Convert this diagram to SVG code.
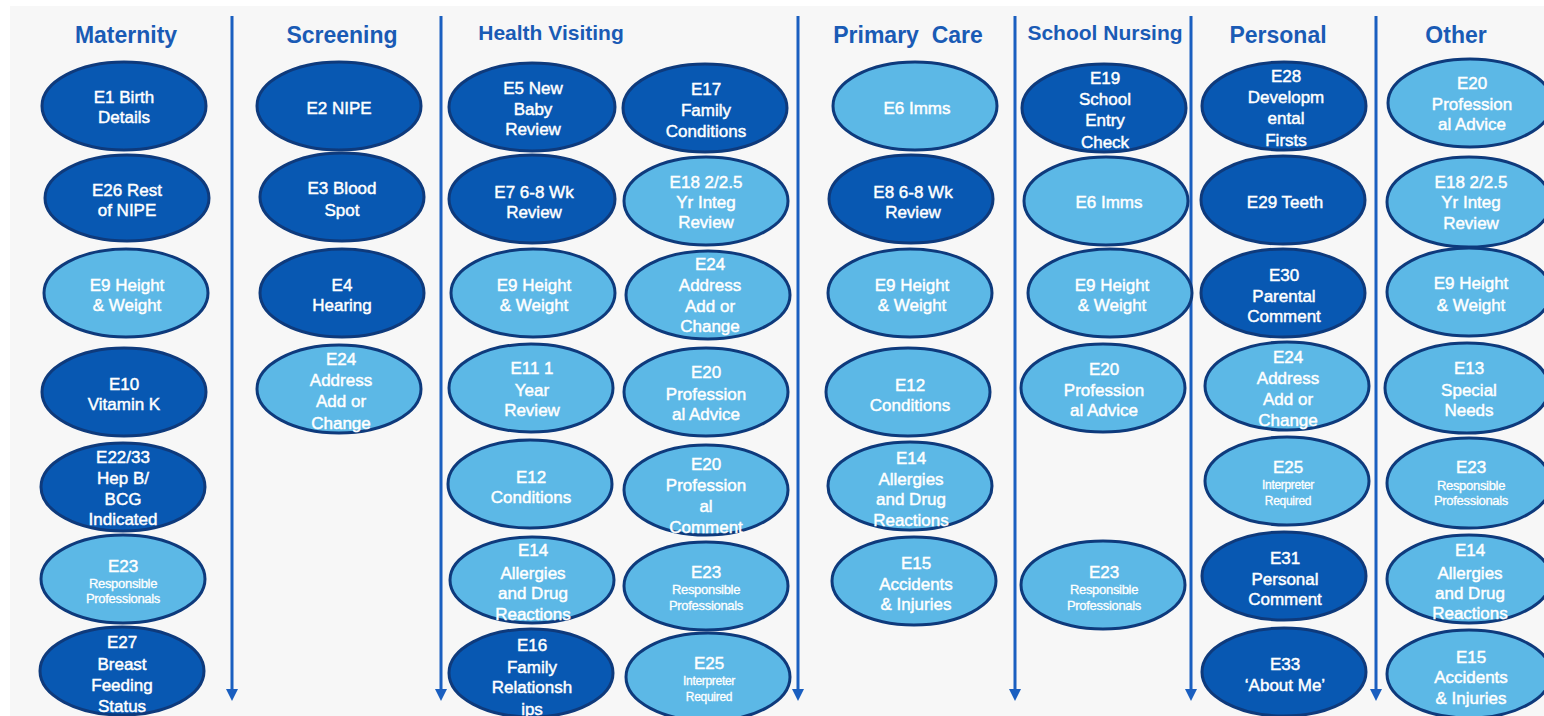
<svg xmlns="http://www.w3.org/2000/svg" width="1544" height="716" viewBox="0 0 1544 716">
<defs>
<style>
.dk{fill:#0858b2;stroke:#0e3a7c;stroke-width:3}
.lt{fill:#5cb8e6;stroke:#0e3a7c;stroke-width:3}
.t{font-family:"Liberation Sans",Arial,sans-serif;font-size:17px;fill:#ffffff;stroke:#ffffff;stroke-width:0.45px;text-anchor:middle}
.s{font-size:13px;letter-spacing:-0.3px;stroke-width:0.3px}
.h{font-family:"Liberation Sans",Arial,sans-serif;font-weight:bold;font-size:23px;fill:#1a5bb5;text-anchor:middle}
.ax{stroke:#1a5fc0;stroke-width:3;fill:none}
</style>
<marker id="ah" viewBox="0 0 12 12" refX="0" refY="6" markerWidth="12" markerHeight="12" markerUnits="userSpaceOnUse" orient="auto">
<path d="M0,0 L12,6 L0,12 z" fill="#1a5fc0"/>
</marker>
</defs>
<rect x="0" y="0" width="1544" height="716" fill="#ffffff"/>
<rect x="10" y="6" width="1534" height="710" fill="#f7f7f7"/>

<g id="connectors">
<line class="ax" x1="232" y1="16" x2="232" y2="689" marker-end="url(#ah)"/>
<line class="ax" x1="441" y1="16" x2="441" y2="689" marker-end="url(#ah)"/>
<line class="ax" x1="798" y1="16" x2="798" y2="689" marker-end="url(#ah)"/>
<line class="ax" x1="1015" y1="16" x2="1015" y2="689" marker-end="url(#ah)"/>
<line class="ax" x1="1191" y1="16" x2="1191" y2="689" marker-end="url(#ah)"/>
<line class="ax" x1="1376" y1="16" x2="1376" y2="689" marker-end="url(#ah)"/>
</g>

<g id="headers">
<text class="h" x="126" y="43">Maternity</text>
<text class="h" x="342" y="43">Screening</text>
<text class="h" x="551" y="40" style="font-size:21px">Health Visiting</text>
<text class="h" x="908" y="43" xml:space="preserve">Primary  Care</text>
<text class="h" x="1105" y="40" style="font-size:21px">School Nursing</text>
<text class="h" x="1278" y="43">Personal</text>
<text class="h" x="1456" y="43">Other</text>
</g>

<!-- Maternity -->
<g id="mat-e1"><ellipse class="dk" cx="124" cy="106" rx="82" ry="44"/>
<text class="t"><tspan x="124" y="103">E1 Birth</tspan><tspan x="124" y="123">Details</tspan></text></g>
<g id="mat-e26"><ellipse class="dk" cx="127" cy="198" rx="82" ry="43"/>
<text class="t"><tspan x="127" y="196">E26 Rest</tspan><tspan x="127" y="216">of NIPE</tspan></text></g>
<g id="mat-e9"><ellipse class="lt" cx="126" cy="293" rx="82" ry="44"/>
<text class="t"><tspan x="127" y="291">E9 Height</tspan><tspan x="127" y="311">&amp; Weight</tspan></text></g>
<g id="mat-e10"><ellipse class="dk" cx="124" cy="392" rx="82" ry="44"/>
<text class="t"><tspan x="124" y="390">E10</tspan><tspan x="124" y="410">Vitamin K</tspan></text></g>
<g id="mat-e22"><ellipse class="dk" cx="123" cy="487" rx="82" ry="44"/>
<text class="t"><tspan x="123" y="463">E22/33</tspan><tspan x="123" y="484">Hep B/</tspan><tspan x="123" y="505">BCG</tspan><tspan x="123" y="525">Indicated</tspan></text></g>
<g id="mat-e23"><ellipse class="lt" cx="123" cy="579" rx="82" ry="44"/>
<text class="t"><tspan x="123" y="572">E23</tspan><tspan class="s" x="123" y="588">Responsible</tspan><tspan class="s" x="123" y="603">Professionals</tspan></text></g>
<g id="mat-e27"><ellipse class="dk" cx="122" cy="671" rx="82" ry="44"/>
<text class="t"><tspan x="122" y="648">E27</tspan><tspan x="122" y="670">Breast</tspan><tspan x="122" y="691">Feeding</tspan><tspan x="122" y="712">Status</tspan></text></g>

<!-- Screening -->
<g id="scr-e2"><ellipse class="dk" cx="339" cy="106" rx="82" ry="44"/>
<text class="t"><tspan x="339" y="114">E2 NIPE</tspan></text></g>
<g id="scr-e3"><ellipse class="dk" cx="342" cy="197" rx="82" ry="44"/>
<text class="t"><tspan x="342" y="194">E3 Blood</tspan><tspan x="342" y="216">Spot</tspan></text></g>
<g id="scr-e4"><ellipse class="dk" cx="342" cy="293" rx="82" ry="44"/>
<text class="t"><tspan x="342" y="291">E4</tspan><tspan x="342" y="311">Hearing</tspan></text></g>
<g id="scr-e24"><ellipse class="lt" cx="339" cy="389" rx="82" ry="44"/>
<text class="t"><tspan x="341" y="365">E24</tspan><tspan x="341" y="386">Address</tspan><tspan x="341" y="407">Add or</tspan><tspan x="341" y="429">Change</tspan></text></g>

<!-- Health Visiting col A -->
<g id="hv-e5"><ellipse class="dk" cx="532" cy="107" rx="83" ry="44"/>
<text class="t"><tspan x="533" y="94">E5 New</tspan><tspan x="533" y="115">Baby</tspan><tspan x="533" y="135">Review</tspan></text></g>
<g id="hv-e7"><ellipse class="dk" cx="532" cy="199" rx="83" ry="44"/>
<text class="t"><tspan x="534" y="198">E7 6-8 Wk</tspan><tspan x="534" y="218">Review</tspan></text></g>
<g id="hv-e9"><ellipse class="lt" cx="533" cy="293" rx="82" ry="44"/>
<text class="t"><tspan x="534" y="291">E9 Height</tspan><tspan x="534" y="311">&amp; Weight</tspan></text></g>
<g id="hv-e11"><ellipse class="lt" cx="531" cy="388" rx="82" ry="44"/>
<text class="t"><tspan x="532" y="374">E11 1</tspan><tspan x="532" y="396">Year</tspan><tspan x="532" y="416">Review</tspan></text></g>
<g id="hv-e12"><ellipse class="lt" cx="530" cy="484" rx="82" ry="44"/>
<text class="t"><tspan x="531" y="483">E12</tspan><tspan x="531" y="503">Conditions</tspan></text></g>
<g id="hv-e14"><ellipse class="lt" cx="532" cy="580" rx="82" ry="43"/>
<text class="t"><tspan x="533" y="556">E14</tspan><tspan x="533" y="579">Allergies</tspan><tspan x="533" y="599">and Drug</tspan><tspan x="533" y="620">Reactions</tspan></text></g>
<g id="hv-e16"><ellipse class="dk" cx="531" cy="673" rx="82" ry="44"/>
<text class="t"><tspan x="532" y="651">E16</tspan><tspan x="532" y="673">Family</tspan><tspan x="532" y="693">Relationsh</tspan><tspan x="532" y="715">ips</tspan></text></g>

<!-- Health Visiting col B -->
<g id="hv-e17"><ellipse class="dk" cx="705" cy="108" rx="82" ry="44"/>
<text class="t"><tspan x="706" y="95">E17</tspan><tspan x="706" y="116">Family</tspan><tspan x="706" y="137">Conditions</tspan></text></g>
<g id="hv-e18"><ellipse class="lt" cx="706" cy="201" rx="82" ry="44"/>
<text class="t"><tspan x="706" y="188">E18 2/2.5</tspan><tspan x="706" y="208">Yr Integ</tspan><tspan x="706" y="228">Review</tspan></text></g>
<g id="hv-e24"><ellipse class="lt" cx="708" cy="295" rx="82" ry="44"/>
<text class="t"><tspan x="710" y="270">E24</tspan><tspan x="710" y="291">Address</tspan><tspan x="710" y="312">Add or</tspan><tspan x="710" y="332">Change</tspan></text></g>
<g id="hv-e20a"><ellipse class="lt" cx="706" cy="392" rx="82" ry="44"/>
<text class="t"><tspan x="706" y="378">E20</tspan><tspan x="706" y="400">Profession</tspan><tspan x="706" y="420">al Advice</tspan></text></g>
<g id="hv-e20c"><ellipse class="lt" cx="706" cy="490" rx="82" ry="45"/>
<text class="t"><tspan x="706" y="470">E20</tspan><tspan x="706" y="491">Profession</tspan><tspan x="706" y="512">al</tspan><tspan x="706" y="533">Comment</tspan></text></g>
<g id="hv-e23"><ellipse class="lt" cx="706" cy="586" rx="82" ry="44"/>
<text class="t"><tspan x="706" y="578">E23</tspan><tspan class="s" x="706" y="594">Responsible</tspan><tspan class="s" x="706" y="610">Professionals</tspan></text></g>
<g id="hv-e25"><ellipse class="lt" cx="708" cy="677" rx="82" ry="44"/>
<text class="t"><tspan x="709" y="669">E25</tspan><tspan class="s" x="709" y="685" style="font-size:12px">Interpreter</tspan><tspan class="s" x="709" y="701" style="font-size:12px">Required</tspan></text></g>

<!-- Primary Care -->
<g id="pc-e6"><ellipse class="lt" cx="915" cy="106" rx="82" ry="44"/>
<text class="t"><tspan x="917" y="114">E6 Imms</tspan></text></g>
<g id="pc-e8"><ellipse class="dk" cx="911" cy="199" rx="82" ry="44"/>
<text class="t"><tspan x="913" y="198">E8 6-8 Wk</tspan><tspan x="913" y="218">Review</tspan></text></g>
<g id="pc-e9"><ellipse class="lt" cx="910" cy="293" rx="82" ry="44"/>
<text class="t"><tspan x="912" y="291">E9 Height</tspan><tspan x="912" y="311">&amp; Weight</tspan></text></g>
<g id="pc-e12"><ellipse class="lt" cx="908" cy="392" rx="82" ry="44"/>
<text class="t"><tspan x="910" y="391">E12</tspan><tspan x="910" y="411">Conditions</tspan></text></g>
<g id="pc-e14"><ellipse class="lt" cx="910" cy="486" rx="82" ry="44"/>
<text class="t"><tspan x="911" y="464">E14</tspan><tspan x="911" y="485">Allergies</tspan><tspan x="911" y="505">and Drug</tspan><tspan x="911" y="526">Reactions</tspan></text></g>
<g id="pc-e15"><ellipse class="lt" cx="914" cy="581" rx="82" ry="44"/>
<text class="t"><tspan x="916" y="569">E15</tspan><tspan x="916" y="590">Accidents</tspan><tspan x="916" y="610">&amp; Injuries</tspan></text></g>

<!-- School Nursing -->
<g id="sn-e19"><ellipse class="dk" cx="1104" cy="108" rx="82" ry="44"/>
<text class="t"><tspan x="1105" y="84">E19</tspan><tspan x="1105" y="105">School</tspan><tspan x="1105" y="126">Entry</tspan><tspan x="1105" y="148">Check</tspan></text></g>
<g id="sn-e6"><ellipse class="lt" cx="1106" cy="201" rx="82" ry="44"/>
<text class="t"><tspan x="1109" y="208">E6 Imms</tspan></text></g>
<g id="sn-e9"><ellipse class="lt" cx="1110" cy="293" rx="82" ry="44"/>
<text class="t"><tspan x="1112" y="291">E9 Height</tspan><tspan x="1112" y="311">&amp; Weight</tspan></text></g>
<g id="sn-e20"><ellipse class="lt" cx="1103" cy="388" rx="82" ry="44"/>
<text class="t"><tspan x="1104" y="375">E20</tspan><tspan x="1104" y="396">Profession</tspan><tspan x="1104" y="416">al Advice</tspan></text></g>
<g id="sn-e23"><ellipse class="lt" cx="1103" cy="585" rx="82" ry="44"/>
<text class="t"><tspan x="1104" y="578">E23</tspan><tspan class="s" x="1104" y="594">Responsible</tspan><tspan class="s" x="1104" y="610">Professionals</tspan></text></g>

<!-- Personal -->
<g id="pe-e28"><ellipse class="dk" cx="1284" cy="106" rx="82" ry="44"/>
<text class="t"><tspan x="1286" y="82">E28</tspan><tspan x="1286" y="103">Developm</tspan><tspan x="1286" y="124">ental</tspan><tspan x="1286" y="146">Firsts</tspan></text></g>
<g id="pe-e29"><ellipse class="dk" cx="1283" cy="200" rx="82" ry="44"/>
<text class="t"><tspan x="1285" y="208">E29 Teeth</tspan></text></g>
<g id="pe-e30"><ellipse class="dk" cx="1283" cy="293" rx="82" ry="44"/>
<text class="t"><tspan x="1284" y="281">E30</tspan><tspan x="1284" y="302">Parental</tspan><tspan x="1284" y="322">Comment</tspan></text></g>
<g id="pe-e24"><ellipse class="lt" cx="1287" cy="386" rx="82" ry="44"/>
<text class="t"><tspan x="1288" y="363">E24</tspan><tspan x="1288" y="384">Address</tspan><tspan x="1288" y="405">Add or</tspan><tspan x="1288" y="426">Change</tspan></text></g>
<g id="pe-e25"><ellipse class="lt" cx="1287" cy="481" rx="82" ry="44"/>
<text class="t"><tspan x="1288" y="473">E25</tspan><tspan class="s" x="1288" y="489" style="font-size:12px">Interpreter</tspan><tspan class="s" x="1288" y="505" style="font-size:12px">Required</tspan></text></g>
<g id="pe-e31"><ellipse class="dk" cx="1284" cy="576" rx="82" ry="44"/>
<text class="t"><tspan x="1285" y="564">E31</tspan><tspan x="1285" y="585">Personal</tspan><tspan x="1285" y="605">Comment</tspan></text></g>
<g id="pe-e33"><ellipse class="dk" cx="1284" cy="672" rx="82" ry="44"/>
<text class="t"><tspan x="1285" y="670">E33</tspan><tspan x="1285" y="691">‘About Me’</tspan></text></g>

<!-- Other -->
<g id="ot-e20"><ellipse class="lt" cx="1470" cy="103" rx="82" ry="44"/>
<text class="t"><tspan x="1472" y="89">E20</tspan><tspan x="1472" y="110">Profession</tspan><tspan x="1472" y="130">al Advice</tspan></text></g>
<g id="ot-e18"><ellipse class="lt" cx="1469" cy="202" rx="82" ry="45"/>
<text class="t"><tspan x="1471" y="188">E18 2/2.5</tspan><tspan x="1471" y="208">Yr Integ</tspan><tspan x="1471" y="229">Review</tspan></text></g>
<g id="ot-e9"><ellipse class="lt" cx="1469" cy="292" rx="82" ry="44"/>
<text class="t"><tspan x="1471" y="289">E9 Height</tspan><tspan x="1471" y="311">&amp; Weight</tspan></text></g>
<g id="ot-e13"><ellipse class="lt" cx="1467" cy="388" rx="82" ry="45"/>
<text class="t"><tspan x="1469" y="374">E13</tspan><tspan x="1469" y="396">Special</tspan><tspan x="1469" y="416">Needs</tspan></text></g>
<g id="ot-e23"><ellipse class="lt" cx="1469" cy="483" rx="82" ry="45"/>
<text class="t"><tspan x="1471" y="473">E23</tspan><tspan class="s" x="1471" y="490">Responsible</tspan><tspan class="s" x="1471" y="505">Professionals</tspan></text></g>
<g id="ot-e14"><ellipse class="lt" cx="1469" cy="579" rx="82" ry="44"/>
<text class="t"><tspan x="1470" y="556">E14</tspan><tspan x="1470" y="579">Allergies</tspan><tspan x="1470" y="599">and Drug</tspan><tspan x="1470" y="619">Reactions</tspan></text></g>
<g id="ot-e15"><ellipse class="lt" cx="1469" cy="674" rx="82" ry="44"/>
<text class="t"><tspan x="1471" y="663">E15</tspan><tspan x="1471" y="683">Accidents</tspan><tspan x="1471" y="704">&amp; Injuries</tspan></text></g>
</svg>
